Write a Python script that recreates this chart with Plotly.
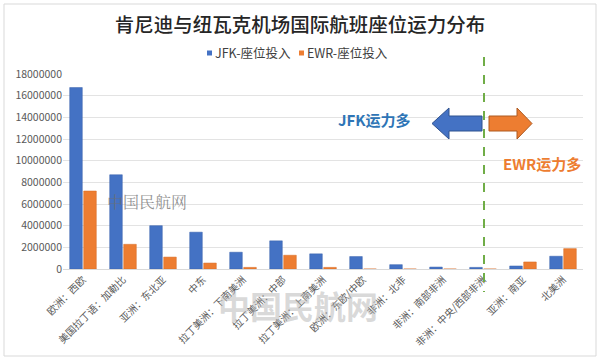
import plotly.graph_objects as go

categories = ["欧洲：西欧", "美国拉丁语：加勒比", "亚洲：东北亚", "中东", "拉丁美洲：下南美洲",
              "拉丁美洲：中部", "拉丁美洲：上南美洲", "欧洲：东欧/中欧", "非洲：北非", "非洲：南部非洲",
              "非洲：中央/西部非洲", "亚洲：南亚", "北美洲"]
jfk = [16750000, 8700000, 4000000, 3400000, 1550000, 2600000, 1400000, 1150000, 400000, 180000, 150000, 280000, 1180000]
ewr = [7200000, 2280000, 1100000, 550000, 150000, 1270000, 150000, 0, 0, 0, 0, 650000, 1880000]
series_names = ["JFK-座位投入", "EWR-座位投入"]
yticks = list(range(0, 18000001, 2000000))

W, H = 600, 359
L, R, T, B = 63, 17, 74, 90
PW, PH = W - L - R, H - T - B
FONT = "Noto Sans CJK SC"
BLUE, ORANGE = "#4472C4", "#ED7D31"


def px(x):
    return (x - L) / PW


def py(y):
    return (H - B - y) / PH


fig = go.Figure()
fig.add_bar(x=categories, y=jfk, name=series_names[0], marker=dict(color=BLUE, line=dict(color="#3A62AC", width=0.5)))
fig.add_bar(x=categories, y=ewr, name=series_names[1], marker=dict(color=ORANGE, line=dict(color="#D46A24", width=0.5)))

shapes = []
# green dashed divider
shapes.append(dict(type="line", xref="paper", yref="paper", x0=px(484), x1=px(484), y0=py(57), y1=py(292),
                   line=dict(color="#70AD47", width=2, dash="dash")))
# blue left arrow
pts = [(432, 123.5), (449, 108), (449, 116), (482, 116), (482, 131), (449, 131), (449, 139)]
path = "M " + " L ".join(f"{px(a)},{py(b)}" for a, b in pts) + " Z"
shapes.append(dict(type="path", xref="paper", yref="paper", path=path, fillcolor=BLUE,
                   line=dict(color="#2F528F", width=1)))
# orange right arrow
pts = [(532, 123.5), (517, 108), (517, 116), (489, 116), (489, 131), (517, 131), (517, 139)]
path = "M " + " L ".join(f"{px(a)},{py(b)}" for a, b in pts) + " Z"
shapes.append(dict(type="path", xref="paper", yref="paper", path=path, fillcolor=ORANGE,
                   line=dict(color="#AE5A21", width=1)))
# chart border
shapes.append(dict(type="rect", xref="paper", yref="paper", x0=px(4), x1=px(596), y0=py(4), y1=py(356),
                   line=dict(color="#D9D9D9", width=1)))
# legend markers
for x0, c in [(207, BLUE), (299, ORANGE)]:
    shapes.append(dict(type="rect", xref="paper", yref="paper", x0=px(x0), x1=px(x0 + 5), y0=py(50.5), y1=py(55.5),
                       fillcolor=c, line=dict(width=0)))

annotations = [
    dict(text=series_names[0], x=px(213), y=py(53), xref="paper", yref="paper", showarrow=False,
         xanchor="left", yanchor="middle", font=dict(family=FONT, size=12.5, color="#404040")),
    dict(text=series_names[1], x=px(305), y=py(53), xref="paper", yref="paper", showarrow=False,
         xanchor="left", yanchor="middle", font=dict(family=FONT, size=12.5, color="#404040")),
    dict(text="<b>JFK运力多</b>", x=px(336), y=py(119), xref="paper", yref="paper", showarrow=False,
         xanchor="left", yanchor="middle", font=dict(family=FONT, size=15, color="#2E75B6")),
    dict(text="<b>EWR运力多</b>", x=px(501), y=py(163), xref="paper", yref="paper", showarrow=False,
         xanchor="left", yanchor="middle", font=dict(family=FONT, size=15, color=ORANGE)),
    dict(text="中国民航网", x=px(105), y=py(215), xref="paper", yref="paper", showarrow=False,
         font=dict(family="Noto Serif CJK SC, serif", size=16, color="rgba(110,110,110,0.75)")),
    dict(text="<b>中国民航网</b>", x=px(298), y=py(330), xref="paper", yref="paper", showarrow=False,
         font=dict(family=FONT, size=32, color="rgba(180,180,180,0.5)")),
]

fig.update_layout(
    width=W, height=H,
    margin=dict(l=L, r=R, t=T, b=B, autoexpand=False),
    paper_bgcolor="white", plot_bgcolor="white",
    font=dict(family=FONT, color="#595959", size=10),
    title=dict(text="肯尼迪与纽瓦克机场国际航班座位运力分布", x=0.5, xanchor="center", y=1 - 25 / H, yanchor="middle",
               font=dict(family=FONT, size=19.5, color="#262626", weight=500)),
    showlegend=False,
    barmode="group", bargap=0.3, bargroupgap=0.1,
    shapes=shapes, annotations=annotations,
)
fig.update_xaxes(tickangle=-45, automargin=False, showline=True, linecolor="#D9D9D9", ticks="",
                 tickfont=dict(size=10, color="#595959"))
fig.update_yaxes(range=[0, 18000000], tickvals=yticks, ticktext=[str(v) for v in yticks], automargin=False,
                 showgrid=True, gridcolor="#E3E3E3", zeroline=False, ticks="",
                 tickfont=dict(size=10.5, color="#595959"))

fig.write_html("out.html", config={"displayModeBar": False},
               post_script="document.body.style.margin='0';document.body.style.overflow='hidden';")
